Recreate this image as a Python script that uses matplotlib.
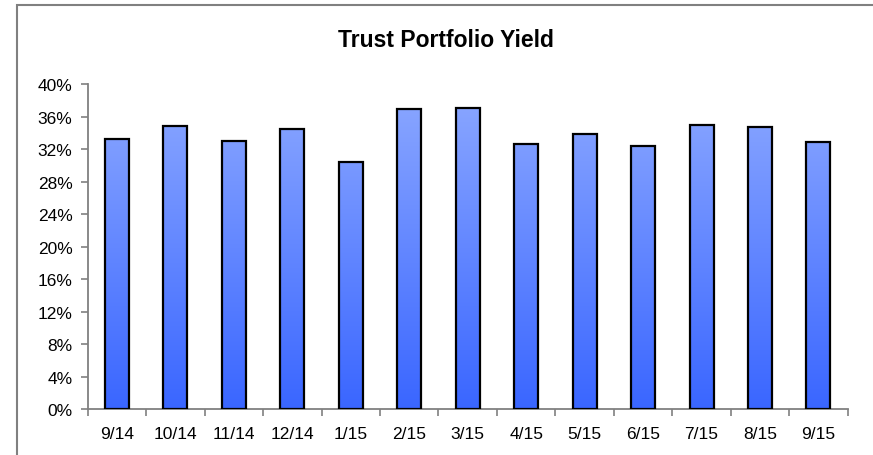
import matplotlib
matplotlib.use("Agg")
import matplotlib.pyplot as plt
import numpy as np
from matplotlib.patches import Rectangle
from matplotlib.ticker import FuncFormatter, FixedLocator
from matplotlib.colors import LinearSegmentedColormap

categories = ["9/14", "10/14", "11/14", "12/14", "1/15", "2/15", "3/15",
              "4/15", "5/15", "6/15", "7/15", "8/15", "9/15"]
yields = [33.2, 34.8, 33.0, 34.5, 30.4, 36.9, 37.0, 32.6, 33.8, 32.4, 35.0, 34.7, 32.9]
y_ticks = [0, 4, 8, 12, 16, 20, 24, 28, 32, 36, 40]
title = "Trust Portfolio Yield"

plt.rcParams['font.family'] = ['Liberation Sans', 'DejaVu Sans']

fig = plt.figure(figsize=(8.73, 4.56), dpi=100)
ax = fig.add_axes([0.1005, 0.0998, 0.8705, 0.7138])

x = np.arange(len(categories))
bars = ax.bar(x, yields, width=0.41, facecolor='none', edgecolor='black', linewidth=1.6, zorder=3)

cmap = LinearSegmentedColormap.from_list("grad", ["#3A66FF", "#8DA9FF"])
grad = np.linspace(0, 1, 256).reshape(-1, 1)
for b in bars:
    x0 = b.get_x()
    w = b.get_width()
    im = ax.imshow(grad, cmap=cmap, origin='lower', aspect='auto',
                   extent=[x0, x0 + w, 0, 40], zorder=2, interpolation='bilinear')
    im.set_clip_path(b)
    im.set_clip_on(True)

ax.set_xlim(-0.5, len(categories) - 0.5)
ax.set_ylim(0, 40)

ax.yaxis.set_major_locator(FixedLocator(y_ticks))
ax.yaxis.set_major_formatter(FuncFormatter(lambda v, p: f"{int(round(v))}%"))

ax.set_xticks(np.arange(-0.5, len(categories), 1.0))
ax.set_xticklabels([])
ax.set_xticks(x, minor=True)
ax.set_xticklabels(categories, minor=True)
ax.tick_params(axis='x', which='major', length=5, width=1.2, color='#808080', direction='out')
ax.tick_params(axis='x', which='minor', length=0, pad=12, labelsize=12.5, labelcolor='black')
ax.tick_params(axis='y', which='major', length=5, width=1.2, color='#808080', direction='out',
               labelsize=12.5, pad=6)

for s in ['top', 'right']:
    ax.spines[s].set_visible(False)
for s in ['left', 'bottom']:
    ax.spines[s].set_color('#808080')
    ax.spines[s].set_linewidth(1.3)

fig.text(0.511, 0.912, title, ha='center', va='center', fontsize=16.5, fontweight='bold')

border = Rectangle((17 / 873, -0.05), 1.2, 1 - 5.5 / 456 + 0.05, transform=fig.transFigure,
                   fill=False, edgecolor='#808080', linewidth=1.5)
fig.patches.append(border)

fig.savefig("out.png", dpi=100)
